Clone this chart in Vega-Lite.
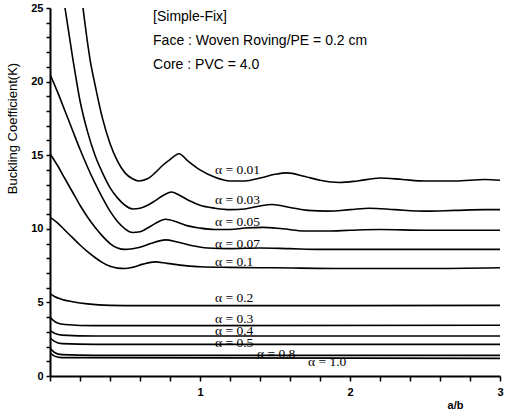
{
  "$schema": "https://vega.github.io/schema/vega-lite/v6.json",
  "width": 450,
  "height": 368,
  "autosize": {"type": "none"},
  "padding": {"left": 50, "top": 8, "right": 6, "bottom": 40},
  "background": "white",
  "config": {"view": {"stroke": null}},
  "datasets": {
    "curves": [
      {"a": "0.01", "x": 0.22, "k": 25}, {"a": "0.01", "x": 0.267, "k": 21.5}, {"a": "0.01", "x": 0.3, "k": 19.8}, {"a": "0.01", "x": 0.35, "k": 17.5}, {"a": "0.01", "x": 0.4, "k": 15.8}, {"a": "0.01", "x": 0.45, "k": 14.6}, {"a": "0.01", "x": 0.5, "k": 13.8}, {"a": "0.01", "x": 0.55, "k": 13.4}, {"a": "0.01", "x": 0.59, "k": 13.25}, {"a": "0.01", "x": 0.65, "k": 13.4}, {"a": "0.01", "x": 0.7, "k": 13.8}, {"a": "0.01", "x": 0.75, "k": 14.3}, {"a": "0.01", "x": 0.8, "k": 14.7}, {"a": "0.01", "x": 0.86, "k": 15.1}, {"a": "0.01", "x": 0.92, "k": 14.6}, {"a": "0.01", "x": 1.0, "k": 14.0}, {"a": "0.01", "x": 1.1, "k": 13.5}, {"a": "0.01", "x": 1.2, "k": 13.25}, {"a": "0.01", "x": 1.3, "k": 13.25}, {"a": "0.01", "x": 1.4, "k": 13.45}, {"a": "0.01", "x": 1.5, "k": 13.7}, {"a": "0.01", "x": 1.58, "k": 13.8}, {"a": "0.01", "x": 1.7, "k": 13.55}, {"a": "0.01", "x": 1.8, "k": 13.3}, {"a": "0.01", "x": 1.93, "k": 13.15}, {"a": "0.01", "x": 2.05, "k": 13.25}, {"a": "0.01", "x": 2.2, "k": 13.45}, {"a": "0.01", "x": 2.35, "k": 13.35}, {"a": "0.01", "x": 2.5, "k": 13.25}, {"a": "0.01", "x": 2.7, "k": 13.25}, {"a": "0.01", "x": 2.9, "k": 13.35}, {"a": "0.01", "x": 3.0, "k": 13.3},
      {"a": "0.03", "x": 0.1, "k": 25}, {"a": "0.03", "x": 0.153, "k": 21.5}, {"a": "0.03", "x": 0.2, "k": 18.7}, {"a": "0.03", "x": 0.25, "k": 16.6}, {"a": "0.03", "x": 0.3, "k": 15.0}, {"a": "0.03", "x": 0.35, "k": 13.8}, {"a": "0.03", "x": 0.4, "k": 12.8}, {"a": "0.03", "x": 0.45, "k": 12.1}, {"a": "0.03", "x": 0.5, "k": 11.6}, {"a": "0.03", "x": 0.553, "k": 11.35}, {"a": "0.03", "x": 0.6, "k": 11.4}, {"a": "0.03", "x": 0.65, "k": 11.6}, {"a": "0.03", "x": 0.7, "k": 11.9}, {"a": "0.03", "x": 0.76, "k": 12.3}, {"a": "0.03", "x": 0.81, "k": 12.5}, {"a": "0.03", "x": 0.86, "k": 12.3}, {"a": "0.03", "x": 0.93, "k": 11.9}, {"a": "0.03", "x": 1.0, "k": 11.6}, {"a": "0.03", "x": 1.1, "k": 11.4}, {"a": "0.03", "x": 1.2, "k": 11.3}, {"a": "0.03", "x": 1.3, "k": 11.35}, {"a": "0.03", "x": 1.4, "k": 11.55}, {"a": "0.03", "x": 1.48, "k": 11.65}, {"a": "0.03", "x": 1.6, "k": 11.45}, {"a": "0.03", "x": 1.72, "k": 11.25}, {"a": "0.03", "x": 1.85, "k": 11.2}, {"a": "0.03", "x": 2.0, "k": 11.3}, {"a": "0.03", "x": 2.13, "k": 11.4}, {"a": "0.03", "x": 2.3, "k": 11.3}, {"a": "0.03", "x": 2.5, "k": 11.2}, {"a": "0.03", "x": 2.7, "k": 11.25}, {"a": "0.03", "x": 2.9, "k": 11.3}, {"a": "0.03", "x": 3.0, "k": 11.3},
      {"a": "0.05", "x": 0.0, "k": 20.5}, {"a": "0.05", "x": 0.05, "k": 19.3}, {"a": "0.05", "x": 0.1, "k": 18.0}, {"a": "0.05", "x": 0.15, "k": 16.7}, {"a": "0.05", "x": 0.2, "k": 15.4}, {"a": "0.05", "x": 0.25, "k": 14.2}, {"a": "0.05", "x": 0.3, "k": 13.1}, {"a": "0.05", "x": 0.35, "k": 12.1}, {"a": "0.05", "x": 0.4, "k": 11.2}, {"a": "0.05", "x": 0.45, "k": 10.5}, {"a": "0.05", "x": 0.5, "k": 10.0}, {"a": "0.05", "x": 0.55, "k": 9.75}, {"a": "0.05", "x": 0.6, "k": 9.8}, {"a": "0.05", "x": 0.65, "k": 10.05}, {"a": "0.05", "x": 0.7, "k": 10.35}, {"a": "0.05", "x": 0.77, "k": 10.65}, {"a": "0.05", "x": 0.85, "k": 10.45}, {"a": "0.05", "x": 0.92, "k": 10.2}, {"a": "0.05", "x": 1.0, "k": 10.05}, {"a": "0.05", "x": 1.1, "k": 9.95}, {"a": "0.05", "x": 1.2, "k": 9.95}, {"a": "0.05", "x": 1.3, "k": 10.05}, {"a": "0.05", "x": 1.42, "k": 10.1}, {"a": "0.05", "x": 1.55, "k": 10.0}, {"a": "0.05", "x": 1.7, "k": 9.85}, {"a": "0.05", "x": 1.85, "k": 9.85}, {"a": "0.05", "x": 2.0, "k": 9.9}, {"a": "0.05", "x": 2.2, "k": 9.95}, {"a": "0.05", "x": 2.5, "k": 9.9}, {"a": "0.05", "x": 2.8, "k": 9.9}, {"a": "0.05", "x": 3.0, "k": 9.9},
      {"a": "0.07", "x": 0.0, "k": 15.1}, {"a": "0.07", "x": 0.05, "k": 14.3}, {"a": "0.07", "x": 0.1, "k": 13.4}, {"a": "0.07", "x": 0.15, "k": 12.5}, {"a": "0.07", "x": 0.2, "k": 11.6}, {"a": "0.07", "x": 0.25, "k": 10.8}, {"a": "0.07", "x": 0.3, "k": 10.1}, {"a": "0.07", "x": 0.35, "k": 9.5}, {"a": "0.07", "x": 0.4, "k": 9.0}, {"a": "0.07", "x": 0.45, "k": 8.7}, {"a": "0.07", "x": 0.5, "k": 8.6}, {"a": "0.07", "x": 0.55, "k": 8.65}, {"a": "0.07", "x": 0.6, "k": 8.75}, {"a": "0.07", "x": 0.67, "k": 9.0}, {"a": "0.07", "x": 0.77, "k": 9.25}, {"a": "0.07", "x": 0.85, "k": 9.1}, {"a": "0.07", "x": 0.95, "k": 8.85}, {"a": "0.07", "x": 1.05, "k": 8.7}, {"a": "0.07", "x": 1.2, "k": 8.65}, {"a": "0.07", "x": 1.4, "k": 8.7}, {"a": "0.07", "x": 1.6, "k": 8.65}, {"a": "0.07", "x": 1.8, "k": 8.6}, {"a": "0.07", "x": 2.0, "k": 8.6}, {"a": "0.07", "x": 2.5, "k": 8.6}, {"a": "0.07", "x": 3.0, "k": 8.6},
      {"a": "0.1", "x": 0.0, "k": 10.8}, {"a": "0.1", "x": 0.05, "k": 10.4}, {"a": "0.1", "x": 0.1, "k": 9.9}, {"a": "0.1", "x": 0.15, "k": 9.4}, {"a": "0.1", "x": 0.2, "k": 8.9}, {"a": "0.1", "x": 0.25, "k": 8.45}, {"a": "0.1", "x": 0.3, "k": 8.05}, {"a": "0.1", "x": 0.35, "k": 7.7}, {"a": "0.1", "x": 0.4, "k": 7.45}, {"a": "0.1", "x": 0.45, "k": 7.33}, {"a": "0.1", "x": 0.5, "k": 7.3}, {"a": "0.1", "x": 0.55, "k": 7.38}, {"a": "0.1", "x": 0.62, "k": 7.6}, {"a": "0.1", "x": 0.7, "k": 7.75}, {"a": "0.1", "x": 0.78, "k": 7.65}, {"a": "0.1", "x": 0.9, "k": 7.5}, {"a": "0.1", "x": 1.0, "k": 7.42}, {"a": "0.1", "x": 1.2, "k": 7.38}, {"a": "0.1", "x": 1.5, "k": 7.35}, {"a": "0.1", "x": 2.0, "k": 7.3}, {"a": "0.1", "x": 2.5, "k": 7.3}, {"a": "0.1", "x": 3.0, "k": 7.35},
      {"a": "0.2", "x": 0.0, "k": 5.6}, {"a": "0.2", "x": 0.03, "k": 5.4}, {"a": "0.2", "x": 0.08, "k": 5.2}, {"a": "0.2", "x": 0.15, "k": 5.05}, {"a": "0.2", "x": 0.25, "k": 4.9}, {"a": "0.2", "x": 0.4, "k": 4.8}, {"a": "0.2", "x": 0.6, "k": 4.78}, {"a": "0.2", "x": 1.0, "k": 4.78}, {"a": "0.2", "x": 2.0, "k": 4.78}, {"a": "0.2", "x": 3.0, "k": 4.8},
      {"a": "0.3", "x": 0.0, "k": 4.0}, {"a": "0.3", "x": 0.02, "k": 3.8}, {"a": "0.3", "x": 0.05, "k": 3.6}, {"a": "0.3", "x": 0.1, "k": 3.5}, {"a": "0.3", "x": 0.3, "k": 3.42}, {"a": "0.3", "x": 1.0, "k": 3.42}, {"a": "0.3", "x": 3.0, "k": 3.45},
      {"a": "0.4", "x": 0.0, "k": 3.1}, {"a": "0.4", "x": 0.03, "k": 2.9}, {"a": "0.4", "x": 0.08, "k": 2.78}, {"a": "0.4", "x": 0.3, "k": 2.72}, {"a": "0.4", "x": 3.0, "k": 2.72},
      {"a": "0.5", "x": 0.0, "k": 2.6}, {"a": "0.5", "x": 0.03, "k": 2.35}, {"a": "0.5", "x": 0.08, "k": 2.2}, {"a": "0.5", "x": 0.3, "k": 2.15}, {"a": "0.5", "x": 3.0, "k": 2.15},
      {"a": "0.8", "x": 0.0, "k": 1.9}, {"a": "0.8", "x": 0.03, "k": 1.6}, {"a": "0.8", "x": 0.08, "k": 1.45}, {"a": "0.8", "x": 0.3, "k": 1.4}, {"a": "0.8", "x": 3.0, "k": 1.4},
      {"a": "1.0", "x": 0.0, "k": 1.6}, {"a": "1.0", "x": 0.03, "k": 1.35}, {"a": "1.0", "x": 0.08, "k": 1.25}, {"a": "1.0", "x": 3.0, "k": 1.2}
    ],
    "labels": [
      {"t": "α = 0.01", "x": 1.1, "k": 14.0},
      {"t": "α = 0.03", "x": 1.1, "k": 11.95},
      {"t": "α = 0.05", "x": 1.1, "k": 10.46},
      {"t": "α = 0.07", "x": 1.1, "k": 8.97},
      {"t": "α = 0.1", "x": 1.1, "k": 7.74},
      {"t": "α = 0.2", "x": 1.1, "k": 5.3},
      {"t": "α = 0.3", "x": 1.1, "k": 3.85},
      {"t": "α = 0.4", "x": 1.1, "k": 3.05},
      {"t": "α = 0.5", "x": 1.1, "k": 2.25},
      {"t": "α = 0.8", "x": 1.38, "k": 1.5},
      {"t": "α = 1.0", "x": 1.72, "k": 0.95}
    ],
    "notes": [
      {"t": "[Simple-Fix]", "x": 0.687, "k": 24.4},
      {"t": "Face : Woven Roving/PE = 0.2 cm", "x": 0.687, "k": 22.76},
      {"t": "Core : PVC = 4.0", "x": 0.687, "k": 21.13}
    ]
  },
  "encoding": {
    "x": {
      "field": "x", "type": "quantitative",
      "scale": {"domain": [0, 3], "nice": false, "zero": false},
      "axis": {
        "title": "a/b",
        "values": [0, 0.2, 0.4, 0.6, 0.8, 1, 1.2, 1.4, 1.6, 1.8, 2, 2.2, 2.4, 2.6, 2.8, 3],
        "labelExpr": "datum.value > 0 && abs(datum.value - round(datum.value)) < 0.001 ? format(datum.value, 'd') : ''",
        "labelOverlap": false, "labelFlush": false,
        "ticks": true, "tickSize": 5,
        "tickColor": "black", "tickWidth": 1.5,
        "domainColor": "black", "domainWidth": 2,
        "grid": false,
        "labelFont": "Liberation Sans", "labelFontWeight": "bold", "labelFontSize": 11, "labelColor": "black", "labelPadding": 5,
        "titleFont": "Liberation Sans", "titleFontWeight": "bold", "titleFontSize": 11, "titleColor": "black",
        "titleX": 405, "titleY": 29, "titleAlign": "center", "titleBaseline": "middle"
      }
    },
    "y": {
      "field": "k", "type": "quantitative",
      "scale": {"domain": [0, 25], "nice": false},
      "axis": {
        "title": "Buckling Coefficient(K)",
        "values": [0, 1, 2, 3, 4, 5, 6, 7, 8, 9, 10, 11, 12, 13, 14, 15, 16, 17, 18, 19, 20, 21, 22, 23, 24, 25],
        "labelExpr": "datum.value % 5 === 0 ? format(datum.value, 'd') : ''",
        "labelOverlap": false, "labelFlush": false,
        "ticks": true, "tickSize": 4,
        "tickColor": "black", "tickWidth": 1.5,
        "domainColor": "black", "domainWidth": 2,
        "grid": false,
        "labelFont": "Liberation Sans", "labelFontWeight": "bold", "labelFontSize": 11, "labelColor": "black", "labelPadding": 3,
        "titleFont": "Liberation Sans", "titleFontWeight": "normal", "titleFontSize": 13, "titleColor": "black",
        "titleX": -38, "titleY": 120, "titleAngle": -90, "titleAlign": "center", "titleBaseline": "middle"
      }
    }
  },
  "layer": [
    {
      "data": {"name": "curves"},
      "mark": {"type": "line", "color": "black", "strokeWidth": 1.6, "interpolate": "monotone", "clip": true},
      "encoding": {
        "detail": {"field": "a", "type": "nominal"}
      }
    },
    {
      "data": {"name": "labels"},
      "mark": {"type": "text", "align": "left", "baseline": "middle", "font": "Liberation Serif", "fontSize": 13.5, "color": "black"},
      "encoding": {
        "text": {"field": "t"}
      }
    },
    {
      "data": {"name": "notes"},
      "mark": {"type": "text", "align": "left", "baseline": "middle", "font": "Liberation Sans", "fontSize": 14, "color": "black"},
      "encoding": {
        "text": {"field": "t"}
      }
    }
  ]
}
